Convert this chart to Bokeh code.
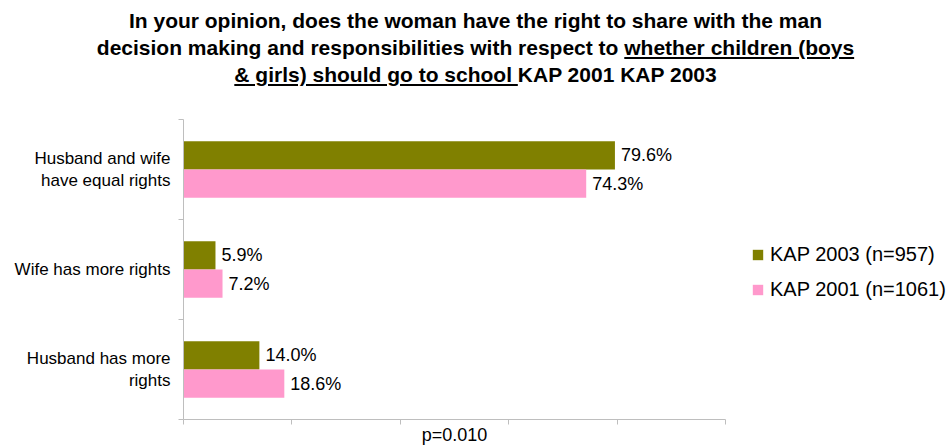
from bokeh.plotting import figure
from bokeh.models import Range1d, FixedTicker, Legend, LegendItem, Div, ColumnDataSource
from bokeh.layouts import column, row
from bokeh.core.properties import value
from bokeh.transform import dodge
from bokeh.embed import file_html
from bokeh.resources import INLINE

# ---- data ----
categories = ["Husband has more\nrights", "Wife has more rights", "Husband and wife\nhave equal rights"]
kap2003 = [14.0, 5.9, 79.6]
kap2001 = [18.6, 7.2, 74.3]
series_names = ["KAP 2003 (n=957)", "KAP 2001 (n=1061)"]
x_ticks = [0, 20, 40, 60, 80, 100]
x_label = "p=0.010"
title_line1 = "In your opinion, does the woman have the right to share with the man"
title_line2a = "decision making and responsibilities with respect to "
title_underlined_a = "whether children (boys"
title_underlined_b = "&amp; girls) should go to school "
title_tail = "KAP 2001 KAP 2003"

GREEN = "#808000"
PINK = "#FF99CC"
AXIS = "#bebebe"
FONT = "Liberation Sans"

centers = [i + 0.5 for i in range(len(categories))]
src = ColumnDataSource(dict(
    y=centers,
    k03=kap2003,
    k01=kap2001,
    t03=[f"{v:.1f}%" for v in kap2003],
    t01=[f"{v:.1f}%" for v in kap2001],
))

BH = 0.283

p = figure(width=727, height=347, output_backend="svg", toolbar_location=None,
           x_range=Range1d(0, 100), y_range=Range1d(0, len(categories)),
           min_border_left=183, min_border_right=2, min_border_top=19, min_border_bottom=27)
p.margin = 0
p.outline_line_color = None
p.xgrid.visible = False
p.ygrid.visible = False
p.background_fill_color = "white"
p.border_fill_color = "white"

r03 = p.hbar(y=dodge("y", BH / 2), right="k03", left=0, height=BH, source=src,
             fill_color=GREEN, line_color=None)
r01 = p.hbar(y=dodge("y", -BH / 2), right="k01", left=0, height=BH, source=src,
             fill_color=PINK, line_color=None)

p.text(x="k03", y=dodge("y", BH / 2), text="t03", source=src, x_offset=6,
       text_baseline="middle", text_align="left", text_font=value(FONT),
       text_font_size="18px", text_color="black")
p.text(x="k01", y=dodge("y", -BH / 2), text="t01", source=src, x_offset=6,
       text_baseline="middle", text_align="left", text_font=value(FONT),
       text_font_size="18px", text_color="black")

# x axis: tick marks only (as minor ticks), no tick labels
xa = p.xaxis[0]
xa.ticker = FixedTicker(ticks=[], minor_ticks=x_ticks)
xa.major_label_standoff = 0
xa.major_tick_line_color = None
xa.minor_tick_out = 5
xa.minor_tick_in = 0
xa.minor_tick_line_color = AXIS
xa.axis_line_color = AXIS
xa.axis_label = x_label
xa.axis_label_text_font = FONT
xa.axis_label_text_font_style = "normal"
xa.axis_label_text_font_size = "18px"
xa.axis_label_standoff = 0
xa.axis_label_text_color = "black"

# y axis: labels at category centres, separator ticks between categories
ya = p.yaxis[0]
ya.ticker = FixedTicker(ticks=centers, minor_ticks=list(range(len(categories) + 1)))
ya.major_label_overrides = {c: lab for c, lab in zip(centers, categories)}
ya.major_tick_line_color = None
ya.major_tick_out = 0
ya.major_tick_in = 0
ya.minor_tick_line_color = AXIS
ya.minor_tick_out = 5
ya.minor_tick_in = 0
ya.axis_line_color = AXIS
ya.major_label_text_font = FONT
ya.major_label_text_font_size = "17px"
ya.major_label_text_color = "black"
ya.major_label_text_align = "center"
ya.major_label_standoff = 8

# legend in its own narrow panel to the right of the plot area
# (same bars drawn there, but outside its visible range, so only the legend shows)
lf = figure(width=224, height=347, output_backend="svg", toolbar_location=None,
            x_axis_type=None, y_axis_type=None, min_border=0,
            x_range=Range1d(-2, -1), y_range=Range1d(0, len(categories)))
lf.margin = 0
lf.outline_line_color = None
lf.xgrid.visible = False
lf.ygrid.visible = False
lr03 = lf.hbar(y="y", right="k03", left=0, height=BH, source=src, fill_color=GREEN, line_color=None)
lr01 = lf.hbar(y="y", right="k01", left=0, height=BH, source=src, fill_color=PINK, line_color=None)

legend = Legend(items=[LegendItem(label=series_names[0], renderers=[lr03]),
                       LegendItem(label=series_names[1], renderers=[lr01])],
                location=(24, 118), orientation="vertical",
                border_line_color=None, background_fill_alpha=0,
                glyph_width=13, glyph_height=13, label_height=22, spacing=12,
                padding=0, margin=0, label_standoff=6,
                label_text_font=FONT, label_text_font_size="20px", label_text_color="black")
lf.add_layout(legend)

title_html = (f"{title_line1}<br>{title_line2a}<u>{title_underlined_a}<br>"
              f"{title_underlined_b}</u>{title_tail}")
div = Div(text=title_html, width=951, height=93, margin=(7, 0, 0, 0),
          styles={"font-family": f"'{FONT}', Arial, sans-serif", "font-weight": "bold",
                  "font-size": "21px", "line-height": "27px", "text-align": "center",
                  "color": "black", "width": "951px"})

body = row(p, lf, spacing=0)
body.margin = 0
layout = column(div, body, spacing=0)
layout.margin = 0

open("out.html", "w").write(file_html(layout, INLINE))
